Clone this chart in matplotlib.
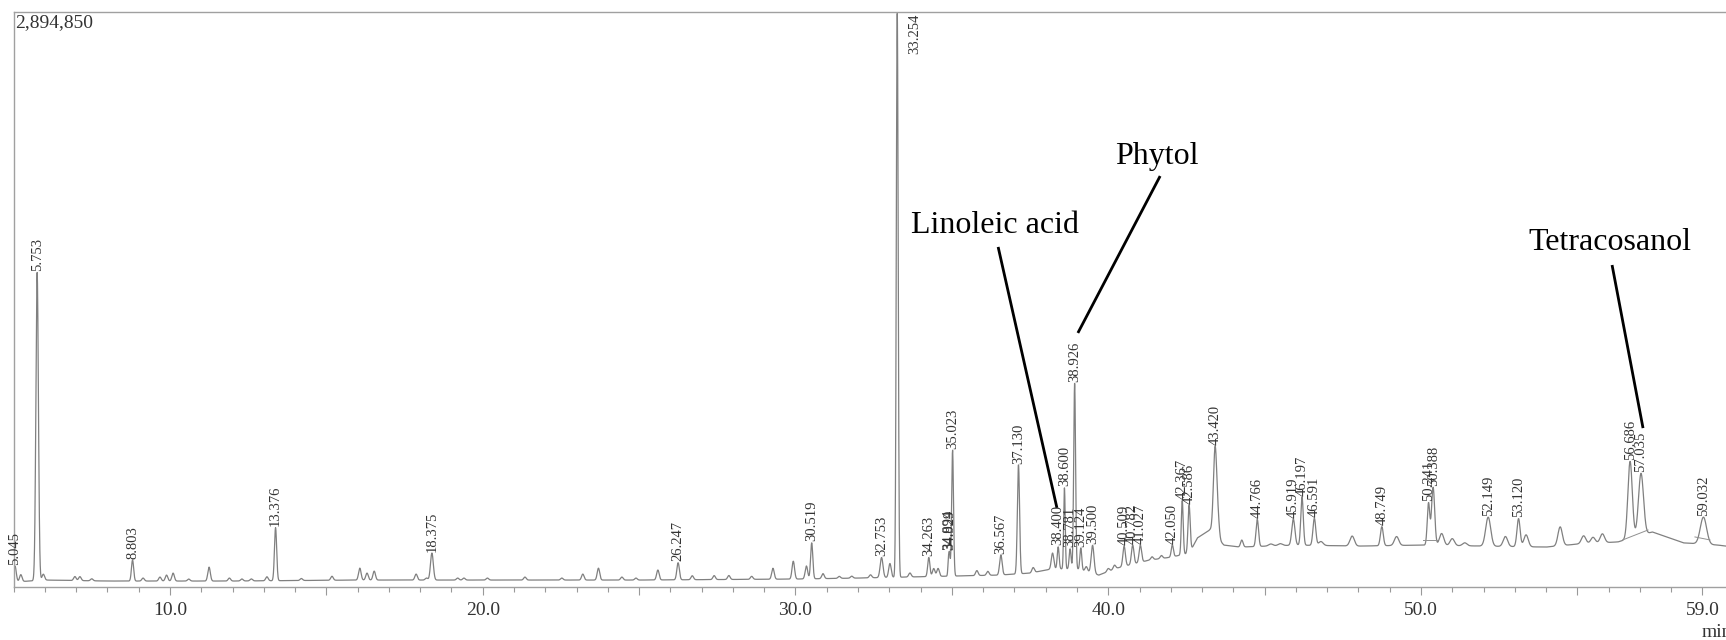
import numpy as np
import matplotlib
matplotlib.use('Agg')
import matplotlib.pyplot as plt
from matplotlib.ticker import FixedLocator, FixedFormatter, MultipleLocator

plt.rcParams['font.family'] = ['Liberation Serif', 'DejaVu Serif']

# labelled peaks: retention time (min), height above baseline, width (sigma, min)
peak_rt = [5.045, 5.753, 8.803, 13.376, 18.375, 26.247, 30.519, 32.753, 33.254,
           34.263, 34.894, 34.929, 35.023, 36.567, 37.130, 38.400, 38.600, 38.781,
           38.926, 39.124, 39.500, 40.509, 40.782, 41.027, 42.050, 42.367, 42.586,
           43.420, 44.766, 45.919, 46.197, 46.591, 48.749, 50.241, 50.388, 52.149,
           53.120, 56.686, 57.035, 59.032]
peak_height = [80000, 1551000, 106000, 267000, 136000, 86000, 181000, 101000, 2845000,
               96000, 85000, 95000, 634000, 101000, 549000, 111000, 408000, 101000,
               936000, 111000, 141000, 101000, 96000, 86000, 60000, 272000, 242000,
               448000, 136000, 131000, 242000, 136000, 96000, 211000, 292000, 146000,
               141000, 388000, 312000, 136000]
peak_sigma = [0.04, 0.04, 0.035, 0.035, 0.045, 0.04, 0.035, 0.045, 0.03,
              0.035, 0.02, 0.02, 0.03, 0.04, 0.035, 0.03, 0.025, 0.03,
              0.03, 0.03, 0.045, 0.04, 0.04, 0.04, 0.035, 0.03, 0.035,
              0.055, 0.04, 0.05, 0.04, 0.045, 0.045, 0.04, 0.05, 0.08,
              0.05, 0.07, 0.08, 0.1]

# small unlabelled peaks
small_rt = [5.23, 5.95, 6.96, 7.12, 7.5, 9.14, 9.68, 9.89, 10.1, 10.6,
            11.25, 11.9, 12.3, 12.6, 13.1, 14.2, 15.18, 16.07, 16.3, 16.53,
            17.87, 18.2, 19.2, 19.4, 20.15, 21.35, 22.53, 23.2, 23.7, 24.45,
            24.9, 25.6, 26.7, 27.4, 27.87, 28.6, 29.28, 29.93, 30.35, 30.88,
            31.4, 31.8, 32.4, 33.02, 33.66, 34.42, 34.56, 35.8, 36.15, 37.6,
            38.22, 39.3, 40.0, 40.2, 41.4, 41.7, 43.52, 44.27, 45.2, 45.5,
            46.8, 47.8, 49.22, 50.66, 51.0, 51.4, 52.7, 53.36, 54.45, 55.2,
            55.5, 55.8]
small_height = [35000, 30000, 20000, 20000, 10000, 15000, 20000, 30000, 40000, 10000,
                70000, 15000, 10000, 10000, 20000, 10000, 20000, 60000, 35000, 45000,
                30000, 10000, 10000, 10000, 10000, 15000, 10000, 30000, 60000, 15000,
                10000, 50000, 20000, 20000, 20000, 15000, 55000, 90000, 65000, 25000,
                10000, 10000, 15000, 70000, 20000, 40000, 40000, 25000, 20000, 25000,
                80000, 25000, 15000, 20000, 15000, 15000, 60000, 35000, 10000, 10000,
                20000, 50000, 45000, 60000, 35000, 15000, 50000, 60000, 95000, 40000,
                30000, 45000]

# baseline drift
base_t = [5.0, 6.0, 8.0, 12.0, 16.0, 20.0, 25.0, 30.0, 32.0, 33.5,
          35.0, 36.5, 37.5, 38.2, 39.0, 39.7, 40.3, 41.3, 42.0, 42.6,
          42.85, 43.25, 43.7, 44.2, 46.0, 48.0, 50.0, 52.0, 54.0, 55.0,
          56.3, 57.4, 58.4, 59.5, 60.0]
base_v = [25000, 35000, 30000, 30000, 35000, 35000, 35000, 40000, 45000, 50000,
          55000, 60000, 70000, 91000, 91000, 60000, 96000, 135000, 150000, 171000,
          247000, 287000, 211000, 201000, 211000, 206000, 211000, 206000, 201000, 216000,
          227000, 277000, 222000, 211000, 201000]

# integration baselines drawn under some peaks
integ_t = [(56.45, 57.26), (58.76, 59.24), (50.07, 50.52)]
integ_v = [(237000, 287000), (252000, 237000), (236000, 236000)]

# callouts
callout_names = ['Linoleic acid', 'Phytol', 'Tetracosanol']
callout_text = [(36.38, 1782000), (41.56, 2130000), (56.05, 1697000)]
callout_start = [(36.48, 1712000), (41.66, 2069000), (56.11, 1621000)]
callout_end = [(38.36, 398000), (39.03, 1279000), (57.10, 800000)]

ymax = 2894850

t = np.arange(5.0, 60.0, 0.004)
signal = np.interp(t, base_t, base_v)
for rt, h, s in zip(peak_rt, peak_height, peak_sigma):
    signal += h * np.exp(-0.5 * ((t - rt) / s) ** 2)
for rt, h in zip(small_rt, small_height):
    s = 0.04 if rt < 45 else 0.07
    signal += h * np.exp(-0.5 * ((t - rt) / s) ** 2)

fig = plt.figure(figsize=(17.26, 6.4), dpi=100)
ax = fig.add_axes([13.6 / 1726, 53 / 640, 55 * 31.275 / 1726, 575 / 640])

ax.plot(t, signal, color='#808080', lw=0.9)
for (x0, x1), (y0, y1) in zip(integ_t, integ_v):
    ax.plot([x0, x1], [y0, y1], color='#909090', lw=0.7)

ax.set_xlim(5.0, 60.0)
ax.set_ylim(0, ymax)

for rt in peak_rt:
    i = np.argmin(np.abs(t - rt))
    apex = signal[max(i - 5, 0):i + 6].max()
    if apex >= 0.95 * ymax:
        # off-scale peak: label hangs from the top frame
        ax.annotate(f"{rt:.3f}", xy=(rt, ymax), xytext=(8, -1), textcoords='offset points',
                    rotation=90, ha='left', va='top', fontsize=10.5, color='#333333')
    else:
        ax.annotate(f"{rt:.3f}", xy=(rt, apex), xytext=(0, 1), textcoords='offset points',
                    rotation=90, ha='center', va='bottom', fontsize=10.5, color='#333333')

for name, txy, s, e in zip(callout_names, callout_text, callout_start, callout_end):
    ax.text(txy[0], txy[1], name, ha='center', va='baseline', fontsize=23, color='black')
    ax.plot([s[0], e[0]], [s[1], e[1]], color='black', lw=2, solid_capstyle='butt')

ax.text(0.001, 0.997, '2,894,850', transform=ax.transAxes, ha='left', va='top',
        fontsize=14, color='#333333')

ax.xaxis.set_major_locator(FixedLocator([10, 15, 20, 25, 30, 35, 40, 45, 50, 55, 59]))
ax.xaxis.set_major_formatter(FixedFormatter(['10.0', '', '20.0', '', '30.0', '', '40.0',
                                             '', '50.0', '', '59.0']))
ax.xaxis.set_minor_locator(MultipleLocator(1))
ax.tick_params(axis='x', which='major', direction='out', length=5.5, width=0.8,
               color='#999999', labelsize=14, labelcolor='#333333', pad=5)
ax.tick_params(axis='x', which='minor', direction='out', length=3.5, width=0.8,
               color='#999999')
ax.set_yticks([])

ax.spines['right'].set_visible(False)
for side in ['left', 'top', 'bottom']:
    ax.spines[side].set_color('#a0a0a0')
    ax.spines[side].set_linewidth(1.0)

fig.text(1702 / 1726, 3 / 640, 'min', ha='left', va='baseline', fontsize=14, color='#333333')

fig.savefig('out.png', dpi=100)
